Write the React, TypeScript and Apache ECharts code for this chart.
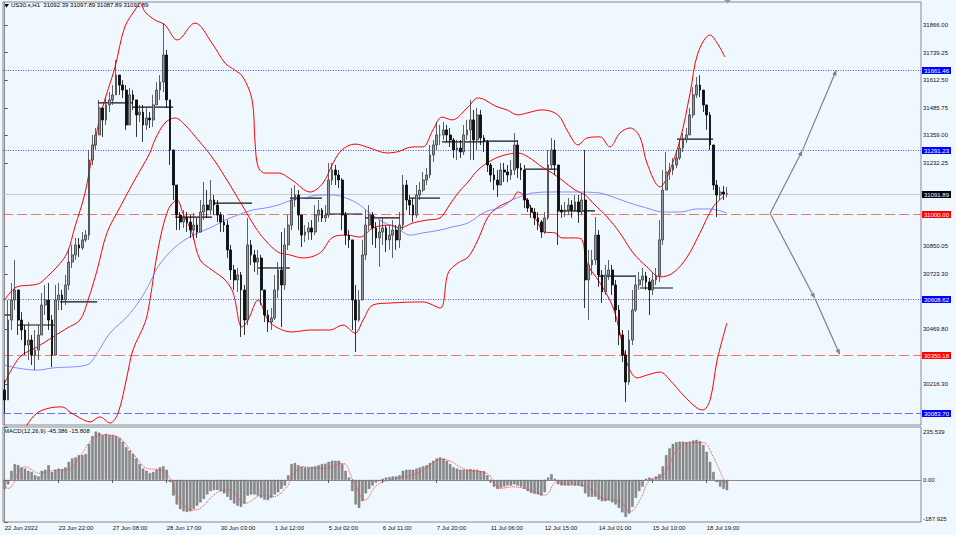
import React, { useEffect, useRef } from "react";
import * as echarts from "echarts";

// bottom time labels, one every 16 two-hour slots
const dateLabels = [
  "22 Jun 2022", "23 Jun 22:00", "27 Jun 08:00", "28 Jun 17:00", "30 Jun 03:00",
  "1 Jul 12:00", "5 Jul 02:00", "6 Jul 11:00", "7 Jul 20:00", "11 Jul 06:00",
  "12 Jul 15:00", "14 Jul 01:00", "15 Jul 10:00", "18 Jul 19:00",
];
const SLOTS = 272;
const LABEL_EVERY = 16;

const priceTicks = [31866.0, 31739.25, 31612.5, 31485.75, 31359.0, 31232.25, 30850.05, 30723.3, 30469.8, 30216.3];
const macdTicks = [235.539, 0, -187.925];

// candles (2h), open = previous close
const firstOpen = 30190;
const closes = [
  30144, 30511, 30603, 30649, 30511, 30465, 30396, 30419, 30350, 30373,
  30442, 30580, 30603, 30511, 30350, 30603, 30626, 30603, 30672, 30777,
  30810, 30856, 30842, 30879, 30901, 31246, 31315, 31361, 31485, 31430,
  31499, 31522, 31545, 31636, 31590, 31567, 31407, 31545, 31522, 31453,
  31466, 31407, 31439, 31430, 31499, 31567, 31604, 31728, 31522, 31292,
  31131, 30993, 30961, 30980, 30961, 30924, 30947, 30915, 31007, 31039,
  31016, 31062, 31039, 30993, 30961, 30947, 30833, 30741, 30695, 30718,
  30649, 30511, 30856, 30810, 30777, 30796, 30649, 30534, 30502, 30520,
  30649, 30741, 30672, 30856, 30947, 31062, 31085, 30993, 30901, 30915,
  30934, 30915, 30993, 31016, 30980, 30993, 31154, 31200, 31177, 31154,
  30993, 30901, 30879, 30603, 30511, 30603, 30810, 30947, 30993, 30934,
  30888, 30915, 30934, 30879, 30901, 30924, 30879, 30947, 31131, 31062,
  31039, 30993, 31085, 31108, 31154, 31177, 31269, 31315, 31361, 31361,
  31384, 31361, 31338, 31292, 31301, 31283, 31361, 31384, 31430, 31338,
  31453, 31347, 31329, 31223, 31177, 31154, 31131, 31200, 31191, 31177,
  31200, 31315, 31209, 31200, 31062, 31025, 31007, 30980, 30961, 30915,
  30980, 31223, 31292, 31223, 31016, 31007, 31016, 31039, 31016, 31053,
  31007, 31062, 30695, 30764, 30787, 30901, 30718, 30640, 30718, 30741,
  30672, 30557, 30442, 30350, 30226, 30419, 30557, 30672, 30695, 30713,
  30686, 30649, 30695, 30713, 30879, 31108, 31191, 31200, 31223, 31255,
  31301, 31338, 31361, 31453, 31545, 31590, 31567, 31499, 31453, 31315,
  31131, 31085, 31099, 31090, 31091.89,
];
const highs = [
  30236, 30603, 30681, 30787, 30580, 30548, 30488, 30502, 30442, 30465,
  30488, 30635, 30672, 30681, 30534, 30672, 30681, 30649, 30718, 30833,
  30856, 30888, 30888, 30915, 30924, 31292, 31361, 31393, 31522, 31476,
  31535, 31558, 31590, 31705, 31636, 31613, 31590, 31577, 31567, 31499,
  31499, 31499, 31485, 31466, 31545, 31604, 31636, 31875, 31751, 31522,
  31246, 31085, 31007, 31016, 31007, 30993, 31002, 30980, 31062, 31145,
  31108, 31154, 31085, 31062, 31007, 30993, 30970, 30856, 30764, 30750,
  30732, 30672, 30980, 30879, 30833, 30833, 30810, 30649, 30557, 30566,
  30718, 30777, 30915, 30934, 30993, 31117, 31131, 31108, 30970, 30947,
  30961, 30970, 31039, 31062, 31025, 31039, 31232, 31232, 31223, 31200,
  31163, 31007, 30924, 30879, 30672, 30649, 30879, 31016, 31039, 31007,
  30961, 30970, 30980, 30947, 30947, 30970, 30947, 31007, 31177, 31154,
  31085, 31071, 31131, 31145, 31191, 31209, 31315, 31338, 31421, 31407,
  31421, 31407, 31393, 31347, 31338, 31338, 31407, 31430, 31522, 31476,
  31485, 31476, 31361, 31338, 31232, 31209, 31200, 31232, 31232, 31223,
  31246, 31370, 31338, 31232, 31223, 31071, 31039, 31025, 31007, 30970,
  31007, 31292, 31347, 31338, 31209, 31039, 31053, 31071, 31062, 31085,
  31085, 31094, 31292, 30833, 30833, 30984, 30924, 30741, 30764, 30787,
  30764, 30695, 30580, 30465, 30373, 30465, 30649, 30718, 30732, 30750,
  30732, 30704, 30732, 30750, 30970, 31200, 31283, 31232, 31255, 31292,
  31338, 31370, 31393, 31485, 31581, 31627, 31636, 31558, 31499, 31466,
  31315, 31154, 31122, 31127, 31122,
];
const lows = [
  30084, 30144, 30465, 30557, 30442, 30419, 30350, 30327, 30304, 30281,
  30327, 30442, 30534, 30465, 30295, 30373, 30557, 30557, 30580, 30649,
  30750, 30787, 30800, 30833, 30869, 30879, 31223, 31292, 31361, 31352,
  31407, 31466, 31499, 31545, 31545, 31531, 31384, 31407, 31476, 31352,
  31420, 31329, 31384, 31393, 31398, 31499, 31522, 31558, 31485, 31223,
  31062, 30924, 30924, 30934, 30915, 30888, 30879, 30888, 30915, 30970,
  30980, 30993, 30993, 30961, 30915, 30915, 30796, 30695, 30649, 30640,
  30433, 30442, 30488, 30764, 30732, 30718, 30580, 30502, 30456, 30465,
  30511, 30612, 30479, 30649, 30833, 30924, 31030, 30924, 30846, 30869,
  30879, 30879, 30901, 30961, 30961, 30961, 30980, 31131, 31131, 31117,
  30924, 30856, 30842, 30465, 30364, 30502, 30603, 30787, 30924, 30856,
  30842, 30755, 30856, 30823, 30833, 30796, 30833, 30842, 30924, 31016,
  30993, 30961, 30980, 31062, 31099, 31131, 31163, 31237, 31292, 31315,
  31338, 31329, 31306, 31255, 31246, 31255, 31269, 31338, 31246, 31246,
  31292, 31315, 31283, 31191, 31145, 31108, 31076, 31131, 31145, 31145,
  31154, 31177, 31163, 31154, 31025, 31007, 30980, 30947, 30924, 30888,
  30906, 30970, 31200, 31177, 30856, 30980, 30984, 30993, 30980, 31007,
  30957, 30993, 30566, 30511, 30718, 30764, 30663, 30589, 30626, 30695,
  30626, 30502, 30396, 30318, 30134, 30213, 30396, 30548, 30649, 30663,
  30649, 30534, 30626, 30672, 30686, 30856, 31108, 31154, 31177, 31209,
  31246, 31283, 31324, 31361, 31439, 31531, 31535, 31466, 31384, 31292,
  31108, 30984, 31062, 31062, 31075,
];

// indicator lines as [slot, price]
const upperBand = [
  [0, 30603], [3.6, 30663], [8.4, 30672], [10.5, 30681], [12.5, 30709], [15.5, 30755], [18.5, 30819],
  [20.8, 30938], [23.8, 31094], [26.2, 31292], [28.8, 31476], [32.7, 31673], [35.6, 31857], [39.2, 31949],
  [40.1, 31967], [41.6, 31926], [44.5, 31889], [47.5, 31866], [51.1, 31797], [56.4, 31875], [61.4, 31783],
  [65.3, 31691], [68.2, 31659], [70.6, 31627], [73.3, 31522], [74.2, 31324], [75.1, 31214], [77.1, 31186],
  [81, 31186], [85.1, 31154], [90.5, 31099], [94.3, 31140], [97.3, 31232], [99.9, 31292], [103.8, 31319],
  [108.2, 31301], [113.3, 31278], [116.2, 31283], [121, 31306], [123.9, 31306], [126.9, 31384], [129.6, 31443],
  [132.5, 31430], [137.3, 31489], [140.2, 31531], [142.3, 31522], [145.3, 31494], [148.8, 31476], [152.1, 31453],
  [154.8, 31462], [159.2, 31476], [163.9, 31453], [166.9, 31375], [169.9, 31315], [172.5, 31347], [176.4, 31352],
  [179.3, 31306], [182.3, 31370], [185.3, 31393], [188.2, 31352], [190.3, 31232], [194.2, 31122], [196.3, 31168],
  [200.1, 31338], [203.1, 31554], [205.4, 31737], [209, 31820], [211.1, 31783], [213.4, 31719],
];
const middleBand = [
  [0, 30222], [4.5, 30341], [9.6, 30387], [14.3, 30433], [18.5, 30474], [22.3, 30511], [24.7, 30603],
  [27.4, 30741], [30.3, 30911], [34.2, 31030], [38, 31140], [43, 31278], [44.5, 31338], [47.5, 31416],
  [50.5, 31439], [53.4, 31407], [57.3, 31338], [61.4, 31260], [65.3, 31168], [68.2, 31094], [71.2, 31016],
  [74.2, 30938], [77.1, 30879], [81, 30823], [84.5, 30810], [88.4, 30796], [93.4, 30819], [97.3, 30892],
  [101.4, 30901], [105.3, 30892], [109.1, 30934], [114.2, 30947], [117.1, 30934], [121, 30957], [125.1, 30970],
  [129, 30980], [131.4, 31030], [134.3, 31094], [137.3, 31145], [140.2, 31200], [144.4, 31246], [148.2, 31269],
  [152.1, 31278], [155.1, 31260], [159.2, 31214], [162.2, 31186], [165.1, 31154], [169, 31108], [172, 31085],
  [174.3, 31048], [178.5, 30984], [182.3, 30911], [186.2, 30819], [190.3, 30755], [194.2, 30709], [198, 30727],
  [202.2, 30800], [206, 30911], [209.9, 31030], [212.8, 31076],
];
const lowerBand = [
  [3.5, 29950], [6.6, 30029], [9.6, 30084], [13.4, 30107], [17, 30112], [19.3, 30089], [22.3, 30061],
  [25.3, 30043], [28.2, 30066], [31.2, 30038], [33.6, 30084], [36.2, 30249], [38, 30373], [41.6, 30500],
  [43, 30600], [45.4, 30833], [48.4, 31016], [51.1, 31062], [52.8, 31002], [55.5, 30911], [57.9, 30787],
  [61.4, 30741], [65.3, 30695], [67.7, 30635], [70.3, 30479], [72.1, 30511], [75.1, 30603], [78, 30511],
  [81, 30474], [85.1, 30456], [90.5, 30465], [96.4, 30465], [100.2, 30488], [103.8, 30451], [106.2, 30511],
  [109.1, 30580], [114.2, 30589], [123.9, 30594], [129, 30566], [131.4, 30727], [134.3, 30773], [137.3, 30800],
  [140.2, 30879], [143.2, 30984], [146.2, 31030], [150.3, 31062], [152.1, 31099], [154.2, 31076], [157.1, 30984],
  [160.1, 30915], [163.1, 30911], [165.1, 30888], [169, 30888], [171.1, 30879], [172.5, 30773], [176.4, 30681],
  [180.2, 30571], [182.3, 30451], [184.4, 30313], [187.4, 30245], [190.3, 30258], [194.2, 30272], [197.1, 30235],
  [201, 30167], [205.1, 30107], [206.9, 30098], [209, 30144], [211.1, 30327], [214, 30497],
];
const movingAverage = [
  [0, 30305], [3.6, 30291], [9.6, 30281], [14.3, 30291], [24.4, 30305], [27.4, 30360], [31.2, 30451],
  [36.2, 30525], [40.1, 30603], [43, 30681], [45.4, 30755], [49.6, 30833], [53.4, 30879], [57.3, 30911],
  [61.4, 30938], [65.3, 30970], [69.1, 30993], [73.3, 31016], [77.1, 31025], [81, 31039], [85.1, 31062],
  [88.4, 31071], [93.4, 31085], [97.3, 31085], [100.2, 31076], [104.4, 31048], [108.2, 31002], [112.1, 30961],
  [116.2, 30934], [120.1, 30901], [123.9, 30911], [129, 30924], [132.5, 30938], [137.3, 30957], [142.3, 31007],
  [147.4, 31030], [150.3, 31062], [154.2, 31085], [156.2, 31094], [161, 31099], [169, 31099], [176.4, 31094],
  [180.2, 31076], [185.3, 31048], [190.3, 31025], [195.1, 31007], [200.1, 31007], [205.1, 31021], [209, 31021],
  [214, 31002],
];

// daily open steps: [fromSlot, toSlot, price]
const dayLevels = [
  [0, 2.2, 30534], [3.9, 14.9, 30488], [16.4, 27.4, 30594], [27.6, 38, 31508], [38, 49.9, 31489],
  [50.5, 61.4, 30984], [62, 73.3, 31048], [75.1, 84.5, 30750], [84.5, 94, 31071], [94.9, 105.9, 30998],
  [106.8, 117.1, 30980], [120.1, 129, 31071], [129.6, 141.7, 31329], [141.7, 151.8, 31333],
  [154.2, 163.6, 31204], [163.6, 174.9, 31012], [175.8, 186.8, 30713], [188.2, 198, 30658], [199.2, 209.9, 31342],
];

// horizontal levels: [price, kind]
const levels: [number, string][] = [
  [31661.46, "blue"],
  [31291.23, "blue"],
  [31091.89, "last"],
  [31000.0, "red"],
  [30608.62, "blue"],
  [30350.18, "red"],
  [30083.7, "blueDash"],
];

const upPath = [[226.8, 31000], [236.4, 31291.23], [246.5, 31661.46]];
const downPath = [[226.8, 31000], [240.1, 30608.62], [247.5, 30350.18]];

// MACD(12,26,9)
const macdHist = [
  -40, -20, 40, 70, 65, 55, 50, 40, 35, 20,
  15, 40, 45, 65, 35, 45, 50, 48, 55, 80,
  95, 100, 110, 110, 115, 160, 195, 215, 210, 200,
  205, 200, 200, 195, 185, 170, 145, 130, 115, 95,
  70, 50, 40, 30, 35, 45, 55, 60, 45, -10,
  -70, -110, -130, -140, -143, -140, -130, -115, -100, -85,
  -65, -50, -45, -45, -50, -60, -75, -90, -105, -115,
  -120, -105, -70, -65, -65, -70, -80, -88, -90, -80,
  -65, -55, -40, -25, 20, 70, 75, 65, 58, 55,
  55, 58, 60, 65, 70, 72, 80, 85, 85, 85,
  70, 40, 10, -50, -110, -125, -95, -60, -40, -25,
  -12, -5, 5, 10, 12, 15, 15, 20, 40, 45,
  45, 45, 50, 55, 60, 65, 75, 85, 95, 100,
  95, 85, 70, 55, 50, 45, 45, 45, 48, 45,
  45, 40, 38, 20, -10, -30, -40, -35, -30, -25,
  -25, -20, -25, -30, -40, -50, -58, -62, -65, -70,
  -55, 10, 25, 5, -20, -25, -25, -25, -22, -25,
  -25, -30, -60, -75, -75, -75, -88, -95, -95, -92,
  -100, -110, -125, -145, -165, -150, -120, -80, -50, -30,
  5, 10, 5, 15, 25, 60, 110, 140, 160, 168,
  170, 170, 168, 170, 175, 178, 172, 155, 125, 80,
  35, -10, -30, -40, -45.386,
];
const macdSignal = [
  [0, -30], [1, -38], [6, 58], [10.5, 29], [15.5, 44], [18.5, 44], [22.3, 103], [25.3, 170], [29.1, 200],
  [33.3, 193], [38, 118], [42.2, 51], [46, 44], [49, 7], [51.1, -68], [55.5, -135], [57.9, -127],
  [62.9, -57], [66.8, -45], [71.2, -105], [76.5, -68], [79.5, -75], [83.6, -31], [85.4, 21], [88.4, 58],
  [94.3, 51], [100.2, 73], [103.2, -2], [106.8, -90], [110.3, -23], [115, 2], [122.2, 29], [129.9, 91],
  [136.9, 44], [142.9, 29], [146.8, -38], [150.6, -31], [155.6, -45], [160.1, -68], [163.6, -9],
  [167.5, -23], [170.5, -23], [177.3, -82], [182.3, -97], [185.3, -142], [188.2, -90], [191.2, 0],
  [195.1, 21], [199.2, 133], [203.1, 166], [206.9, 166], [209.9, 103], [213.4, -9], [214, -15.808],
];

const FONT = "Liberation Sans";
const FS = 6;

const levelStyle: Record<string, { stroke: string; dash: number[] | null; box: string }> = {
  blue: { stroke: "#4f4fff", dash: [1, 1.5], box: "#0000ff" },
  blueDash: { stroke: "#6b6bff", dash: [8, 3], box: "#0000ff" },
  red: { stroke: "#ff6e6e", dash: [10, 4], box: "#ff0000" },
  last: { stroke: "#c8c8c8", dash: null, box: "#000000" },
};

const App: React.FC = () => {
  const chartRef = useRef<HTMLDivElement | null>(null);

  useEffect(() => {
    if (!chartRef.current) return;
    const chart = echarts.init(chartRef.current, null, { renderer: "svg" });

    const slots = Array.from({ length: SLOTS }, (_, i) =>
      i % LABEL_EVERY === 0 ? dateLabels[i / LABEL_EVERY] ?? "" : ""
    );
    const showSlot = (i: number) => i % LABEL_EVERY === 0 && i / LABEL_EVERY < dateLabels.length;

    const ohlc = closes.map((c, i) => {
      const o = i === 0 ? firstOpen : closes[i - 1];
      return [o, c, Math.min(lows[i], o, c), Math.max(highs[i], o, c)];
    });

    // arrow legs: [x0, y0, x1, y1]
    const arrowLegs = [upPath, downPath].flatMap((path) =>
      path.slice(1).map((pt, k) => [path[k][0], path[k][1], pt[0], pt[1]])
    );

    const lineSeries = (name: string, data: number[][], color: string, width: number) => ({
      name,
      type: "line",
      xAxisIndex: 2,
      yAxisIndex: 0,
      data,
      showSymbol: false,
      smooth: 0.35,
      silent: true,
      lineStyle: { color, width },
      z: 3,
    });

    chart.setOption({
      animation: false,
      backgroundColor: "#f0f8ff",
      textStyle: { fontFamily: FONT },
      grid: [
        { left: 3, right: 35, top: 2, height: 423, show: true, borderColor: "#8a8a8a", borderWidth: 1, outerBoundsMode: "none" },
        { left: 3, right: 35, top: 427, height: 95, show: true, borderColor: "#8a8a8a", borderWidth: 1, outerBoundsMode: "none" },
      ],
      xAxis: [
        {
          type: "category", gridIndex: 0, data: slots, boundaryGap: true,
          axisLine: { show: false }, axisTick: { show: false }, axisLabel: { show: false }, splitLine: { show: false },
        },
        {
          type: "category", gridIndex: 1, data: slots, boundaryGap: true,
          axisLine: { show: true, lineStyle: { color: "#8a8a8a" } },
          axisTick: { show: true, interval: showSlot, alignWithLabel: true, length: 3, lineStyle: { color: "#555" } },
          axisLabel: { show: true, interval: showSlot, align: "left", margin: 3, fontSize: FS, color: "#111", fontFamily: FONT },
          splitLine: { show: false },
        },
        { type: "value", gridIndex: 0, min: -0.5, max: SLOTS - 0.5, show: false, splitLine: { show: false } },
        { type: "value", gridIndex: 1, min: -0.5, max: SLOTS - 0.5, show: false, splitLine: { show: false } },
      ],
      yAxis: [
        {
          type: "value", gridIndex: 0, position: "right", min: 30028.8, max: 31971.6,
          splitLine: { show: false },
          axisLine: { show: true, lineStyle: { color: "#8a8a8a" } },
          axisTick: { show: true, length: 3, customValues: priceTicks, lineStyle: { color: "#555" } },
          axisLabel: {
            show: true, customValues: priceTicks, margin: 2, fontSize: FS, color: "#111", fontFamily: FONT,
            formatter: (v: number) => v.toFixed(2),
          },
        },
        {
          type: "value", gridIndex: 1, position: "right", min: -187.925, max: 235.539,
          splitLine: { show: false },
          axisLine: { show: true, lineStyle: { color: "#8a8a8a" } },
          axisTick: { show: true, length: 3, customValues: macdTicks, lineStyle: { color: "#555" } },
          axisLabel: {
            show: true, customValues: macdTicks, margin: 2, fontSize: FS, color: "#111", fontFamily: FONT,
            formatter: (v: number) =>
              v > 0 ? `{t|${v.toFixed(3)}}` : v < 0 ? `{b|${v.toFixed(3)}}` : "0.00",
            rich: {
              t: { fontSize: FS, fontFamily: FONT, color: "#111", padding: [9, 0, 0, 0] },
              b: { fontSize: FS, fontFamily: FONT, color: "#111", padding: [0, 0, 7, 0] },
            },
          },
        },
      ],
      graphic: [
        { type: "polygon", shape: { points: [[4, 4], [9, 4], [6.5, 7.5]] }, style: { fill: "#000" } },
        { type: "polygon", shape: { points: [[724, 0], [731, 0], [727.5, 3.5]] }, style: { fill: "#9a9a9a" } },
        {
          type: "text", left: 11, top: 2,
          style: { text: "US30.s,H1  31092.39 31097.89 31087.89 31091.89", fontSize: FS, fontFamily: FONT, fill: "#000" },
        },
        {
          type: "text", left: 4, top: 428,
          style: { text: "MACD(12,26,9) -45.386 -15.808", fontSize: FS, fontFamily: FONT, fill: "#000" },
        },
      ],
      series: [
        {
          name: "levels",
          type: "custom",
          xAxisIndex: 2,
          yAxisIndex: 0,
          data: levels.map(([p], i) => [p, i]),
          silent: true,
          clip: false,
          z: 1,
          renderItem: (params: any, api: any) => {
            const [, kind] = levels[params.dataIndex];
            const st = levelStyle[kind];
            const price = api.value(0);
            const left = api.coord([-0.5, price]);
            const right = api.coord([SLOTS - 0.5, price]);
            const y = Math.round(left[1]) + 0.5;
            return {
              type: "group",
              children: [
                {
                  type: "line",
                  shape: { x1: left[0], y1: y, x2: right[0], y2: y },
                  style: { stroke: st.stroke, lineWidth: 1, lineDash: st.dash ?? undefined },
                },
                {
                  type: "text",
                  x: right[0] + 1,
                  y,
                  style: {
                    text: price.toFixed(2),
                    fill: "#fff",
                    backgroundColor: st.box,
                    padding: [1, 2, 0, 2],
                    fontSize: FS,
                    fontFamily: FONT,
                    verticalAlign: "middle",
                    align: "left",
                  },
                },
              ],
            };
          },
        },
        {
          name: "dayLevels",
          type: "custom",
          xAxisIndex: 2,
          yAxisIndex: 0,
          data: dayLevels,
          silent: true,
          z: 2,
          renderItem: (_p: any, api: any) => {
            const a = api.coord([api.value(0), api.value(2)]);
            const b = api.coord([api.value(1), api.value(2)]);
            return {
              type: "line",
              shape: { x1: a[0], y1: a[1], x2: b[0], y2: b[1] },
              style: { stroke: "#111", lineWidth: 1.2 },
            };
          },
        },
        {
          name: "arrows",
          type: "custom",
          xAxisIndex: 2,
          yAxisIndex: 0,
          data: arrowLegs,
          silent: true,
          z: 2,
          renderItem: (_p: any, api: any) => {
            const a = api.coord([api.value(0), api.value(1)]);
            const b = api.coord([api.value(2), api.value(3)]);
            const dx = b[0] - a[0];
            const dy = b[1] - a[1];
            const len = Math.hypot(dx, dy) || 1;
            const ux = dx / len;
            const uy = dy / len;
            const back = [b[0] - ux * 6, b[1] - uy * 6];
            return {
              type: "group",
              children: [
                {
                  type: "line",
                  shape: { x1: a[0], y1: a[1], x2: back[0], y2: back[1] },
                  style: { stroke: "#808080", lineWidth: 1.2 },
                },
                {
                  type: "polygon",
                  shape: {
                    points: [
                      [b[0], b[1]],
                      [back[0] - uy * 2.2, back[1] + ux * 2.2],
                      [back[0] + uy * 2.2, back[1] - ux * 2.2],
                    ],
                  },
                  style: { fill: "#808080" },
                },
              ],
            };
          },
        },
        lineSeries("upper", upperBand, "#ff0000", 1),
        lineSeries("middle", middleBand, "#ff0000", 1),
        lineSeries("lower", lowerBand, "#ff0000", 1),
        lineSeries("ma", movingAverage, "#6e6eff", 0.8),
        {
          name: "US30.s",
          type: "candlestick",
          xAxisIndex: 0,
          yAxisIndex: 0,
          data: ohlc,
          barWidth: 2.2,
          silent: true,
          z: 4,
          itemStyle: {
            color: "#9a9a9a",
            color0: "#111111",
            borderColor: "#3a3a3a",
            borderColor0: "#000000",
            borderWidth: 0.8,
          },
        },
        {
          name: "MACD",
          type: "bar",
          xAxisIndex: 1,
          yAxisIndex: 1,
          data: macdHist,
          barWidth: 2.4,
          silent: true,
          itemStyle: { color: "#8d8d8d", borderColor: "#5a5a5a", borderWidth: 0.4 },
        },
        {
          name: "Signal",
          type: "line",
          xAxisIndex: 3,
          yAxisIndex: 1,
          data: macdSignal,
          showSymbol: false,
          smooth: 0.4,
          silent: true,
          lineStyle: { color: "#ff4040", width: 1, type: "dotted" },
          z: 3,
        },
      ],
    });

    return () => {
      chart.dispose();
    };
  }, []);

  return (
    <div
      ref={chartRef}
      style={{ position: "fixed", left: 0, top: 0, width: "956px", height: "535px" }}
    />
  );
};

export default App;
